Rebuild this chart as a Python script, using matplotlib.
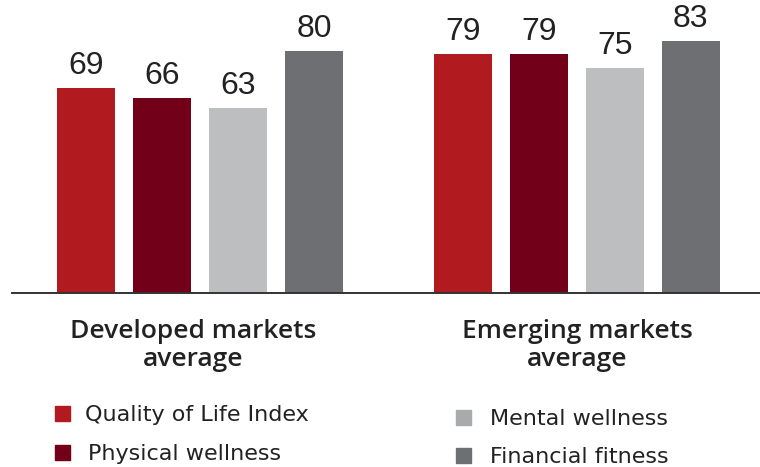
import numpy as np
import matplotlib.pyplot as plt
from matplotlib.patches import Rectangle

plt.rcParams['font.family'] = ['Liberation Sans', 'DejaVu Sans']

# data
groups = ['Developed markets\naverage', 'Emerging markets\naverage']
series = ['Quality of Life Index', 'Physical wellness', 'Mental wellness', 'Financial fitness']
developed = [69, 66, 63, 80]
emerging = [79, 79, 75, 83]
colors = ['#b11a1f', '#720018', '#bdbec0', '#6e6f73']
legend_colors = ['#b11a1f', '#720018', '#a9aaad', '#6e6f73']
txt = '#222222'

W, H = 760, 467
fig = plt.figure(figsize=(W / 100, H / 100), dpi=100)
# axes placed in pixel terms: baseline at y=293, line from x=12 to right edge
ax = fig.add_axes([12 / W, (H - 293) / H, 748 / W, 276 / H])

vals = np.array([developed, emerging])
for i in range(len(series)):
    x = np.arange(len(groups)) * 4.96 + i
    bars = ax.bar(x, vals[:, i], width=0.76, color=colors[i], zorder=2)
    ax.bar_label(bars, padding=5, fontsize=23, color=txt)

ax.set_xlim(-0.974, 8.87)
ax.set_ylim(8.1, 90)
ax.set_yticks([])
ax.set_xticks([])
for s in ['top', 'right', 'left']:
    ax.spines[s].set_visible(False)
ax.spines['bottom'].set_color('#333333')
ax.spines['bottom'].set_linewidth(1.4)

# group labels under the baseline
label_x = [193, 577]
for gx, g in zip(label_x, groups):
    fig.text(gx / W, 1 - 319 / H, g, ha='center', va='top', fontsize=19,
             family=['Open Sans', 'DejaVu Sans'], fontweight='semibold',
             color=txt, linespacing=1.14)

# legend squares and text
leg = [(55, 85, 406), (55, 88, 445), (456, 490, 410), (456, 490, 448)]
for (sx, tx, sy), name, c in zip(leg, series, legend_colors):
    fig.add_artist(Rectangle((sx / W, 1 - (sy + 15) / H), 15 / W, 15 / H,
                             transform=fig.transFigure, color=c))
    fig.text(tx / W, 1 - (sy + 9) / H, name, ha='left', va='center',
             fontsize=16, family=['DejaVu Sans'], color=txt)

fig.savefig('out.png', dpi=100)
